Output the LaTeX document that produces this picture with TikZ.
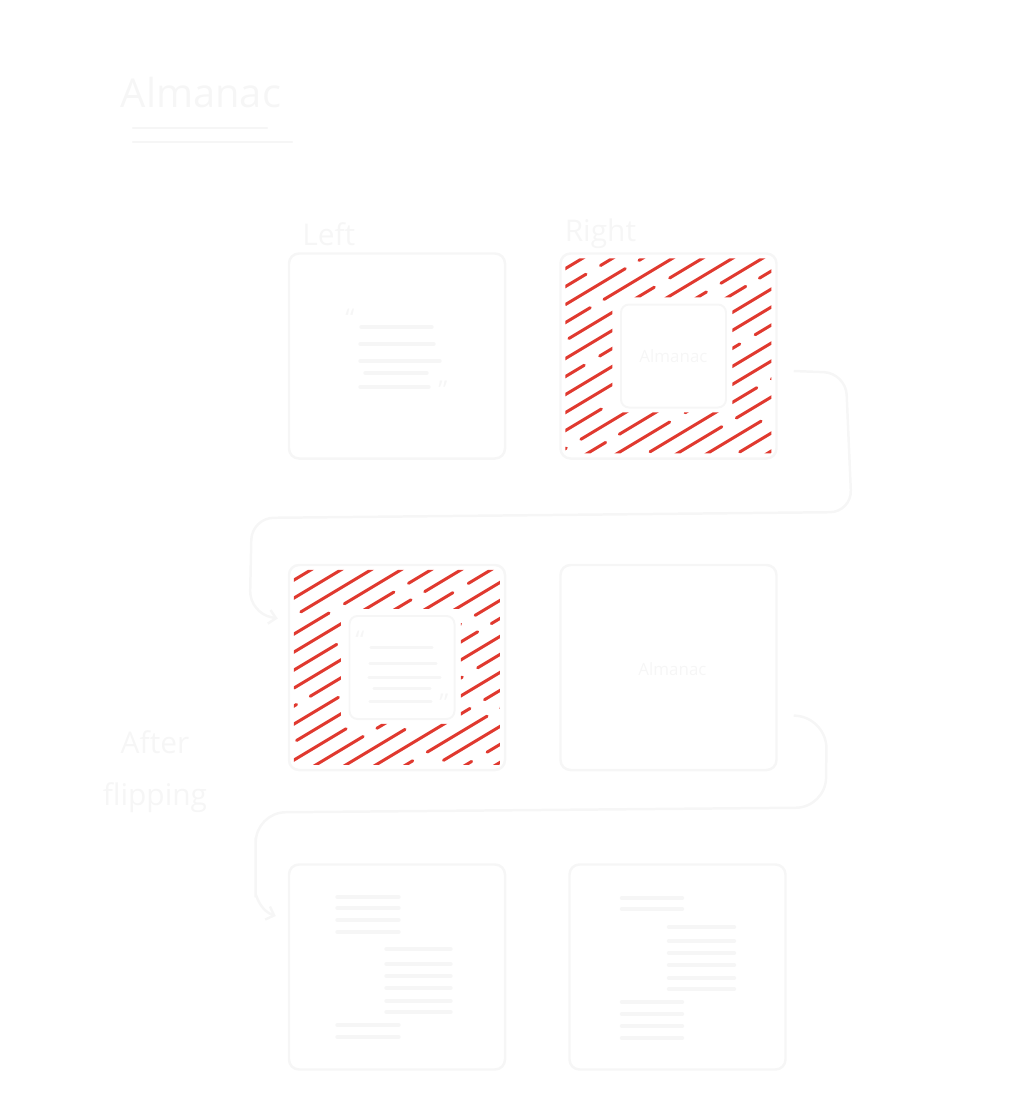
\documentclass[tikz,border=0pt]{standalone}
\usepackage{fontspec}
\setmainfont{Open Sans}
\usetikzlibrary{positioning, arrows.meta, calc}
\definecolor{chalk}{HTML}{F6F6F6}
\definecolor{marker}{HTML}{E0392F}

\begin{document}
\begin{tikzpicture}[
    x=1bp, y=-1bp,
    node distance=53bp,
    page/.style={rectangle, draw=chalk, rounded corners=10pt, line width=2.5pt,
                 minimum width=216bp, minimum height=205bp, inner sep=0pt},
    window/.style={rectangle, draw=chalk, rounded corners=8pt, line width=2pt,
                   minimum width=105bp, minimum height=103bp, inner sep=0pt},
    hand/.style={text=chalk, font=\fontsize{30}{52}\selectfont},
    small/.style={text=chalk, font=\fontsize{17}{20}\selectfont},
    quote/.style={text=chalk, font=\fontsize{26}{26}\selectfont},
    txt/.style={draw=chalk, line width=3.5pt, line cap=round},
    hatch/.style={draw=marker, line width=3pt, line cap=round,
                  dash pattern=on 125pt off 17pt on 70pt off 16pt on 100pt off 18pt},
    flow/.style={draw=chalk, line width=2.5pt, rounded corners=22pt,
                 -{Straight Barb[length=7pt, width=14pt]}}
]
\useasboundingbox (0,0) rectangle (1025,1116);

% heading
\node[hand, font=\fontsize{40}{44}\selectfont] (title) at (201,93) {Almanac};
\draw[txt, line width=2.5pt] (133,128) -- (267,128);
\draw[txt, line width=2.5pt] (133,142) -- (292,142);

% the six pages
\node[page] (leftPage) at (397,356) {};
\node[page, right=of leftPage] (rightPage) {};
\node[page, below=104bp of leftPage] (leftFlip) {};
\node[page, right=of leftFlip] (rightFlip) {};
\node[page, below=92bp of leftFlip] (leftOut) {};
\node[page, right=62bp of leftOut] (rightOut) {};

\node[hand, anchor=base west] (leftLabel) at ($(leftPage.north west)+(11,-7)$) {Left};
\node[hand, anchor=base west] (rightLabel) at ($(rightPage.north west)+(2,-11)$) {Right};
\node[hand, align=center] (afterLabel) at (155,772) {After\\flipping};

% cut-out windows
\node[window] (rightWin) at ($(rightPage.center)+(5,0)$) {};
\node[small] (rightWinText) at (rightWin) {Almanac};
\node[window] (leftWin) at ($(leftFlip.center)+(5,0)$) {};
\node[small] (rightFlipText) at ($(rightFlip.center)+(4,2)$) {Almanac};

% hatched margins
\begin{scope}[shift={(rightPage.north west)}, even odd rule]
  \clip (6,6) rectangle (212,201) (53,45) rectangle (173,160);
  \foreach \k [evaluate=\k as \ph using 41*\k] in {0,...,19}
    \draw[hatch, dash phase=\ph pt] (-10,8+18*\k) -- ++(320,-192);
\end{scope}
\begin{scope}[shift={(leftFlip.north west)}, even odd rule]
  \clip (6,6) rectangle (212,201) (53,45) rectangle (173,160);
  \foreach \k [evaluate=\k as \ph using 67*\k] in {0,...,19}
    \draw[hatch, dash phase=\ph pt] (-10,8+18*\k) -- ++(320,-192);
\end{scope}

% text on the left page
\begin{scope}[shift={(leftPage.center)}]
  \foreach \y/\a/\b in {-29/-36/35, -12/-37/37, 5/-37/43, 17/-32/30, 31/-37/32}
    \draw[txt] (\a,\y) -- (\b,\y);
\end{scope}
\node[quote] (leftOpen) at ($(leftPage.center)+(-47,-38)$) {“};
\node[quote] (leftClose) at ($(leftPage.center)+(46,34)$) {”};

% the same text seen through the window
\begin{scope}[shift={(leftWin.center)}]
  \foreach \y/\a/\b in {-20/-31/30, -4/-32/34, 10/-33/38, 21/-28/28, 34/-32/29}
    \draw[txt] (\a,\y) -- (\b,\y);
\end{scope}
\node[quote] (winOpen) at ($(leftWin.center)+(-42,-27)$) {“};
\node[quote] (winClose) at ($(leftWin.center)+(42,36)$) {”};

% result after flipping
\begin{scope}[shift={(leftOut.center)}]
  \foreach \y in {-70,-59,-47,-35,58,70}
    \draw[txt] (-60,\y) -- (2,\y);
  \foreach \y in {-18,-3,9,21,34,45}
    \draw[txt] (-11,\y) -- (54,\y);
\end{scope}
\begin{scope}[shift={(rightOut.center)}]
  \foreach \y in {-69,-58,35,47,59,71}
    \draw[txt] (-56,\y) -- (5,\y);
  \foreach \y in {-40,-26,-14,-2,11,22}
    \draw[txt] (-9,\y) -- (57,\y);
\end{scope}

% flip arrows
\draw[flow] ([xshift=16bp, yshift=-15bp]rightPage.east) -- ++(52,2) -- ++(6,139)
  -- ++(-600,6) -- ++(-2,95) -- ([xshift=-10bp, yshift=49bp]leftFlip.west);
\draw[flow, rounded corners=30pt] ([xshift=16bp, yshift=-48bp]rightFlip.east) -- ++(33,3)
  -- ++(-1,89) -- ++(-570,5) -- ++(0,55)
  to[out=-90, in=160] ([xshift=-12bp, yshift=51bp]leftOut.west);
\end{tikzpicture}
\end{document}
